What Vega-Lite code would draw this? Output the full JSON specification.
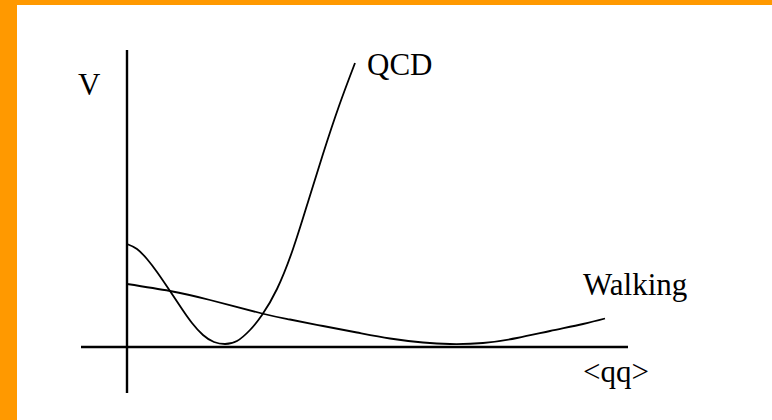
{
  "$schema": "https://vega.github.io/schema/vega-lite/v6.json",
  "width": 772,
  "height": 420,
  "autosize": {"type": "fit", "contains": "padding"},
  "padding": {"left": 17, "top": 5, "right": 0, "bottom": 0},
  "background": "#FF9900",
  "config": {"view": {"fill": "white", "stroke": null}},
  "datasets": {
    "axes": [
      {"x": 0, "x2": 0, "y": -0.46, "y2": 2.97},
      {"x": -0.46, "x2": 5.01, "y": 0, "y2": 0}
    ],
    "curves": [
      {"series": "QCD", "qq": 0.0, "V": 1.03},
      {"series": "QCD", "qq": 0.1, "V": 0.98},
      {"series": "QCD", "qq": 0.2, "V": 0.88},
      {"series": "QCD", "qq": 0.3, "V": 0.75},
      {"series": "QCD", "qq": 0.43, "V": 0.56},
      {"series": "QCD", "qq": 0.55, "V": 0.38},
      {"series": "QCD", "qq": 0.65, "V": 0.24},
      {"series": "QCD", "qq": 0.76, "V": 0.12},
      {"series": "QCD", "qq": 0.87, "V": 0.05},
      {"series": "QCD", "qq": 0.98, "V": 0.03},
      {"series": "QCD", "qq": 1.1, "V": 0.06},
      {"series": "QCD", "qq": 1.23, "V": 0.17},
      {"series": "QCD", "qq": 1.35, "V": 0.32},
      {"series": "QCD", "qq": 1.5, "V": 0.58},
      {"series": "QCD", "qq": 1.66, "V": 0.98},
      {"series": "QCD", "qq": 1.81, "V": 1.45},
      {"series": "QCD", "qq": 1.96, "V": 1.93},
      {"series": "QCD", "qq": 2.12, "V": 2.41},
      {"series": "QCD", "qq": 2.28, "V": 2.84},
      {"series": "Walking", "qq": 0.0, "V": 0.63},
      {"series": "Walking", "qq": 0.43, "V": 0.56},
      {"series": "Walking", "qq": 0.83, "V": 0.47},
      {"series": "Walking", "qq": 1.35, "V": 0.335},
      {"series": "Walking", "qq": 1.63, "V": 0.275},
      {"series": "Walking", "qq": 1.96, "V": 0.21},
      {"series": "Walking", "qq": 2.3, "V": 0.145},
      {"series": "Walking", "qq": 2.63, "V": 0.085},
      {"series": "Walking", "qq": 2.96, "V": 0.045},
      {"series": "Walking", "qq": 3.23, "V": 0.03},
      {"series": "Walking", "qq": 3.56, "V": 0.04},
      {"series": "Walking", "qq": 3.9, "V": 0.09},
      {"series": "Walking", "qq": 4.23, "V": 0.16},
      {"series": "Walking", "qq": 4.56, "V": 0.23},
      {"series": "Walking", "qq": 4.78, "V": 0.285}
    ],
    "labels": [
      {"text": "V", "qq": -0.49, "V": 2.52},
      {"text": "QCD", "qq": 2.4, "V": 2.72},
      {"text": "Walking", "qq": 4.56, "V": 0.52},
      {"text": "<qq>", "qq": 4.56, "V": -0.35}
    ]
  },
  "layer": [
    {
      "data": {"name": "axes"},
      "mark": {"type": "rule", "color": "black", "strokeWidth": 2.4},
      "encoding": {
        "x": {"field": "x", "type": "quantitative", "axis": null, "scale": {"domain": [-1.1, 6.45], "nice": false, "zero": false}},
        "x2": {"field": "x2"},
        "y": {"field": "y", "type": "quantitative", "axis": null, "scale": {"domain": [-0.73, 3.42], "nice": false, "zero": false}},
        "y2": {"field": "y2"}
      }
    },
    {
      "data": {"name": "curves"},
      "mark": {"type": "line", "color": "black", "strokeWidth": 1.8, "interpolate": "natural"},
      "encoding": {
        "x": {"field": "qq", "type": "quantitative", "axis": null, "scale": {"domain": [-1.1, 6.45], "nice": false, "zero": false}},
        "y": {"field": "V", "type": "quantitative", "axis": null, "scale": {"domain": [-0.73, 3.42], "nice": false, "zero": false}},
        "detail": {"field": "series"}
      }
    },
    {
      "data": {"name": "labels"},
      "mark": {"type": "text", "font": "Liberation Serif", "fontSize": 31, "align": "left", "baseline": "alphabetic", "color": "black"},
      "encoding": {
        "x": {"field": "qq", "type": "quantitative", "axis": null, "scale": {"domain": [-1.1, 6.45], "nice": false, "zero": false}},
        "y": {"field": "V", "type": "quantitative", "axis": null, "scale": {"domain": [-0.73, 3.42], "nice": false, "zero": false}},
        "text": {"field": "text"}
      }
    }
  ]
}
